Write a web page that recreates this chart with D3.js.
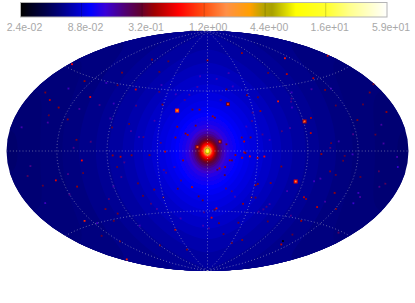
<!DOCTYPE html>
<html><head><meta charset="utf-8">
<script src="https://cdnjs.cloudflare.com/ajax/libs/d3/7.8.5/d3.min.js"></script>
<style>html,body{margin:0;padding:0;background:#fff}svg{display:block}</style></head>
<body><svg id="c" width="415" height="303"></svg>
<script>
// colour bar
const tickValues = [0.024,0.088,0.32,1.2,4.4,16,59];
const tickLabels = ["2.4e-02","8.8e-02","3.2e-01","1.2e+00","4.4e+00","1.6e+01","5.9e+01"];
const cmapStops  = [0,0.068,0.109,0.19,0.23,0.285,0.325,0.365,0.43,0.5,0.56,0.625,0.66,0.685,0.75,0.835,0.9,1];
const cmapColors = ["#000000","#00004a","#000080","#0000ff","#3800d8","#500070","#600030","#a00000","#ff0000","#ff5010","#ff9048","#ffa000","#b8a400","#a8a000","#ffff00","#ffff30","#ffff90","#ffffff"];
// radial brightness around the centre: angular radius (deg), value
const ringRadius = [170,150,130,115,100,88,76,66,58,50,44,38,33,29,26,23,20,17,15,13,11.5,10,9,8,7,6.2,5.4,4.6,3.9,3.2,2.6,2.1,1.6,1.2,0.7];
const ringValue  = [0.052,0.054,0.056,0.059,0.062,0.066,0.07,0.075,0.08,0.085,0.09,0.095,0.1,0.105,0.112,0.12,0.13,0.15,0.17,0.2,0.24,0.28,0.32,0.38,0.46,0.58,0.7,0.9,1.3,2.2,3.6,5.5,8,12,20];
const baseValue = 0.05;
// point sources: longitude, latitude, value
const srcLon = [-30,21,83,91,-142,-175,11,-9,-38,45,31,38,51,33,33,16,11,22,-22,-15,-8,73,52,-11,-20,5,31,17,-15,10,38,46,60,49,-9,-52,-65,-29,-5,
 -81,-177,-122,-158,-142,-113,-96,-68,-46,-145,-168,-131,-88,-73,-28,-68,-118,-150,-54,-104,-29,-18,
 128,104,128,178,75,0,7,128,168,140,170,179,153,127,22,83,54,111,152,43,39,98,94,
 97,100,116,124,136,112,125,120,5,15,40,60,46,25,102,25,34,48,45,75,67,112,118,122,156,166,162,170,141,165,8,9,20,16,123,
 -113,-141,-78,-85,-124,-110,-101,-112,-46,-66,-68,-52,-48,-135,-90,-114,-155,-165,-45,-82,-145,
 -170,-160,-150,-135,-125,-105,-95,-80,-70,-60,-50,-40,-35,-25,-12,-4,12,24,36,44,58,68,78,88,100,110,120,132,146,158,172,
 -163,-148,-128,-118,-100,-92,-75,-62,-56,-42,-33,-24,-10,2,14,28,42,56,64,76,86,105,115,130,148,160,
 -132,-108,-90,-72,-55,-38,-20,-6,18,30,50,66,84,96,118,135,150,-120,-88,-58,-30,30,62,92,120];
const srcLat = [30,35,-21,20,-42,-66,7,3,-0.5,-5,-5,-4,-4,-1,7,-12,-13,-7,-7,31,31,35,29,19,13,26,10,5,-27,-43,-39,-25,-23,-34,-34,-28,-32,-28,-37,
 43,47,34,28,42,52,64,65,34,25,31,19,16,19,18,57,7,20,43,44,10,12,
 61,52,46,53,71,68,25,38,31,18,20,34,26,28,46,55,39,5,9,41,10,22,12,
 -31,-32,-36,-26,-35,-46,-62,-55,-50,-54,-53,-65,-68,-62,-2,-3,-1.5,-24,-34,-50,-11,-13,-15,-6,-11,-17,-19,-3,-15,-46,-44,-14,-7,-18,-3,
 -6,-17,-4,-3,-22,-38,-42,-46,-58,-23,-3,-3,-73,-58,-67,-14,-19,-13,-34,-11,-52,
 12,-8,36,-26,26,6,32,-18,14,-38,22,-14,42,-22,48,-46,54,-30,18,28,-44,14,-28,36,-20,2,-32,10,-24,4,-8,
 -28,16,-14,44,-32,22,-8,10,-42,6,-50,38,56,-58,38,-34,22,8,-40,16,34,-18,40,-2,-30,14,
 -45,30,-24,32,48,-16,42,-56,-28,48,12,-38,30,-44,6,38,-26,2,-52,10,-12,58,-42,40,-60];
const srcVal = [3,1,2,1.5,0.85,0.85,1,1.2,0.5,0.5,0.5,0.6,0.7,0.5,0.5,0.4,0.45,0.3,0.4,0.3,0.4,0.8,0.4,0.35,0.4,0.4,0.35,0.35,0.5,0.6,0.4,0.4,0.35,0.3,0.3,0.35,0.3,0.3,0.3,
 0.6,0.7,0.7,0.5,0.4,0.35,0.35,0.3,0.35,0.4,0.35,0.35,0.3,0.3,0.4,0.3,0.35,0.3,0.25,0.3,0.4,0.45,
 0.8,0.5,0.5,0.5,0.4,0.4,0.35,0.35,0.35,0.35,0.4,0.35,0.3,0.3,0.3,0.3,0.3,0.3,0.3,0.35,0.35,0.45,0.5,
 0.5,0.4,0.5,0.4,0.35,0.4,0.5,0.3,0.6,0.3,0.3,0.35,0.3,0.3,0.4,0.4,0.35,0.35,0.3,0.3,0.35,0.35,0.3,0.3,0.25,0.25,0.2,0.17,0.3,0.25,0.3,0.3,0.4,0.3,0.3,
 0.7,0.6,0.5,0.4,0.4,0.35,0.35,0.3,0.5,0.3,0.35,0.35,0.35,0.3,0.3,0.3,0.3,0.25,0.3,0.3,0.3,
 0.17,0.2,0.16,0.2,0.18,0.22,0.16,0.2,0.18,0.22,0.17,0.2,0.16,0.22,0.18,0.2,0.17,0.22,0.16,0.2,0.18,0.22,0.17,0.2,0.16,0.22,0.18,0.2,0.16,0.18,0.15,
 0.16,0.18,0.2,0.16,0.22,0.17,0.2,0.16,0.18,0.22,0.17,0.2,0.16,0.18,0.22,0.17,0.2,0.16,0.22,0.18,0.2,0.17,0.18,0.16,0.15,
 0.18,0.16,0.2,0.17,0.22,0.16,0.2,0.18,0.17,0.22,0.16,0.2,0.18,0.16,0.2,0.17,0.16,0.18,0.2,0.16,0.22,0.18,0.17,0.2,0.16];
const graticuleStep = 45;

const cx=207.5,cy=151,rx=201,ry=120;
const svg=d3.select("#c");
const barX=[20.5,387], barY=[2.5,17];
const logScale=d3.scaleLog().domain([tickValues[0],tickValues[6]]).range(barX);
const tScale=d3.scaleLog().domain([tickValues[0],tickValues[6]]).range([0,1]).clamp(true);
const ramp=d3.scaleLinear().domain(cmapStops).range(cmapColors).interpolate(d3.interpolateRgb);
const color=v=>ramp(tScale(v));

// colour bar
const barPix=d3.range(21,387,1);
svg.append("g").attr("shape-rendering","crispEdges").selectAll("rect").data(barPix).join("rect")
 .attr("x",d=>d).attr("y",3).attr("width",1).attr("height",14)
 .attr("fill",d=>ramp((d-barX[0])/(barX[1]-barX[0])));
svg.append("rect").attr("x",barX[0]).attr("y",barY[0]).attr("width",barX[1]-barX[0]).attr("height",barY[1]-barY[0])
 .attr("fill","none").attr("stroke","#b4b4b4");
const axis=d3.axisBottom(logScale).tickValues(tickValues).tickFormat((d,i)=>tickLabels[i]).tickSize(0).tickPadding(0);
const ag=svg.append("g").attr("transform","translate(0,"+barY[1]+")").call(axis);
ag.select(".domain").remove();
ag.selectAll("text").attr("y",14).attr("dy",0).attr("dx",3.5).attr("fill","#a8a8a8")
 .style("font-family","'Liberation Sans',Arial,sans-serif").style("font-size","10.5px");
svg.append("g").selectAll("line").data(tickValues.slice(1,-1)).join("line")
 .attr("x1",d=>logScale(d)).attr("x2",d=>logScale(d)).attr("y1",3).attr("y2",17)
 .attr("stroke","#000").attr("stroke-opacity",0.18);

// Aitoff projection, stretched vertically to the reference's ellipse
const k=rx/Math.PI, stretch=ry/(Math.PI/2)/k;
function aitoff(l,p){
  const c=Math.acos(Math.cos(p)*Math.cos(l/2));
  const s=c<1e-9?1:Math.sin(c)/c;
  return [2*Math.cos(p)*Math.sin(l/2)/s, stretch*Math.sin(p)/s];
}
const proj=d3.geoProjection(aitoff).scale(k).translate([cx,cy]).precision(0.3);
const path=d3.geoPath(proj);
const defs=svg.append("defs");
defs.append("filter").attr("id","soft").attr("x","-5%").attr("y","-5%").attr("width","110%").attr("height","110%")
 .append("feGaussianBlur").attr("stdDeviation",0.4);
const map=svg.append("g").attr("filter","url(#soft)");
map.append("path").datum({type:"Sphere"}).attr("d",path).attr("fill",color(baseValue));
map.append("g").selectAll("path").data(ringRadius).join("path")
 .attr("d",r=>path(d3.geoCircle().center([0,0]).radius(r).precision(2)()))
 .attr("fill",(r,i)=>color(ringValue[i]));
const idx=d3.range(srcLon.length);
map.append("g").selectAll("rect").data(idx.filter(i=>srcVal[i]>=0.9)).join("rect")
 .attr("x",i=>proj([srcLon[i],srcLat[i]])[0]-2).attr("y",i=>proj([srcLon[i],srcLat[i]])[1]-2)
 .attr("width",4).attr("height",4).attr("fill",i=>color(srcVal[i]*0.3));
map.append("g").selectAll("rect").data(idx).join("rect")
 .attr("x",i=>proj([srcLon[i],srcLat[i]])[0]-0.9).attr("y",i=>proj([srcLon[i],srcLat[i]])[1]-0.9)
 .attr("width",1.8).attr("height",1.8).attr("fill",i=>color(srcVal[i]));
const grat=d3.geoGraticule().extentMajor([[-180,-90],[180,90]]).extentMinor([[-180,-90],[180,90]])
 .stepMajor([graticuleStep,graticuleStep]).stepMinor([graticuleStep,graticuleStep]);
svg.append("path").datum({type:"MultiLineString",coordinates:grat.lines().map(l=>l.coordinates).filter(c=>{
   const isEdgeMeridian=Math.abs(c[0][0])===180&&Math.abs(c[c.length-1][0])===180&&c[0][1]!==c[c.length-1][1];
   const isPole=Math.abs(c[0][1])===90&&c[0][1]===c[c.length-1][1];
   return !isEdgeMeridian&&!isPole;})})
 .attr("d",path).attr("fill","none").attr("stroke","#d0d0d0").attr("stroke-opacity",0.45)
 .attr("stroke-width",1).attr("stroke-dasharray","1 2.2");
</script></body></html>
